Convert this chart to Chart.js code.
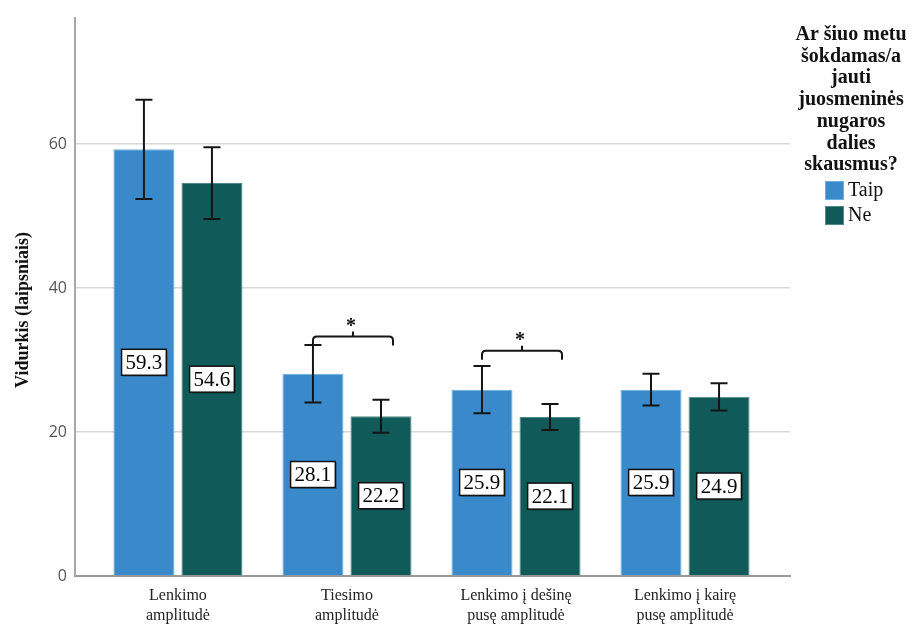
<!DOCTYPE html>
<html>
<head>
<meta charset="utf-8">
<script src="https://cdn.jsdelivr.net/npm/chart.js@4/dist/chart.umd.min.js"></script>
<style>
  html, body { margin: 0; padding: 0; background: #ffffff; }
  #wrap { width: 917px; height: 626px; position: relative; }
</style>
</head>
<body>
<div id="wrap"><canvas id="chart" width="917" height="626"></canvas></div>
<script>
// Categories (multi-line axis labels)
const categories = [
  ['Lenkimo', 'amplitudė'],
  ['Tiesimo', 'amplitudė'],
  ['Lenkimo į dešinę', 'pusę amplitudė'],
  ['Lenkimo į kairę', 'pusę amplitudė']
];

// Group means
const taipMeans = [59.3, 28.1, 25.9, 25.9];
const neMeans   = [54.6, 22.2, 22.1, 24.9];

// Error bar limits
const taipLow  = [52.4, 24.1, 22.6, 23.7];
const taipHigh = [66.2, 32.1, 29.2, 28.1];
const neLow    = [49.6, 19.9, 20.3, 23.0];
const neHigh   = [59.6, 24.5, 23.9, 26.8];

// Significance brackets: category index and bracket level
const sigCategories = [1, 2];
const sigLevels     = [33.3, 31.3];

// Axis ticks
const yTicks = [0, 20, 40, 60];

const legendTitle = ['Ar šiuo metu', 'šokdamas/a', 'jauti', 'juosmeninės', 'nugaros', 'dalies', 'skausmus?'];
const yTitle = 'Vidurkis (laipsniais)';

const COLOR_TAIP = '#3a8acb';
const COLOR_NE = '#105b59';

const toPoints = arr => arr.map((v, i) => ({ x: i, y: v }));

const overlay = {
  id: 'overlay',
  afterDatasetsDraw(chart) {
    const ctx = chart.ctx;
    const ys = chart.scales.y;
    const lows = [taipLow, neLow];
    const highs = [taipHigh, neHigh];
    const metas = [chart.getDatasetMeta(0), chart.getDatasetMeta(1)];

    // error bars
    ctx.save();
    ctx.strokeStyle = '#151515';
    ctx.lineWidth = 2;
    metas.forEach((meta, d) => {
      meta.data.forEach((el, i) => {
        const x = el.x;
        const y1 = ys.getPixelForValue(lows[d][i]);
        const y2 = ys.getPixelForValue(highs[d][i]);
        ctx.beginPath();
        ctx.moveTo(x, y1); ctx.lineTo(x, y2);
        ctx.moveTo(x - 8.5, y1); ctx.lineTo(x + 8.5, y1);
        ctx.moveTo(x - 8.5, y2); ctx.lineTo(x + 8.5, y2);
        ctx.stroke();
      });
    });
    ctx.restore();

    // significance brackets
    ctx.save();
    ctx.strokeStyle = '#151515';
    ctx.lineWidth = 2;
    sigCategories.forEach((c, k) => {
      const a = metas[0].data[c];
      const b = metas[1].data[c];
      const left = a.x;
      const right = b.x + 12;
      const mid = (left + right) / 2;
      const y = ys.getPixelForValue(sigLevels[k]);
      const r = 4;
      ctx.beginPath();
      ctx.moveTo(left, y + 9);
      ctx.lineTo(left, y + r);
      ctx.quadraticCurveTo(left, y, left + r, y);
      ctx.lineTo(right - r, y);
      ctx.quadraticCurveTo(right, y, right, y + r);
      ctx.lineTo(right, y + 9);
      ctx.moveTo(mid, y);
      ctx.lineTo(mid, y - 5);
      ctx.stroke();
      ctx.fillStyle = '#111';
      ctx.font = 'bold 20px "Liberation Serif"';
      ctx.textAlign = 'center';
      ctx.textBaseline = 'middle';
      ctx.fillText('*', mid - 2, y - 10);
    });
    ctx.restore();

    // value labels
    ctx.save();
    ctx.font = '21px "Liberation Serif"';
    ctx.textAlign = 'center';
    ctx.textBaseline = 'middle';
    metas.forEach((meta, d) => {
      const values = chart.data.datasets[d].data;
      meta.data.forEach((el, i) => {
        const txt = values[i].y.toFixed(1);
        const cy = (el.y + el.base) / 2;
        const w = ctx.measureText(txt).width + 8;
        const h = 26;
        ctx.fillStyle = 'rgba(0,0,0,0.25)';
        ctx.fillRect(el.x - w / 2 + 1.5, cy - h / 2 + 1.5, w, h);
        ctx.fillStyle = '#ffffff';
        ctx.fillRect(el.x - w / 2, cy - h / 2, w, h);
        ctx.strokeStyle = '#111';
        ctx.lineWidth = 1.5;
        ctx.strokeRect(el.x - w / 2, cy - h / 2, w, h);
        ctx.fillStyle = '#000';
        ctx.fillText(txt, el.x, cy + 1);
      });
    });
    ctx.restore();
  },
  afterDraw(chart) {
    const ctx = chart.ctx;
    // y axis title
    ctx.save();
    ctx.translate(23, 310);
    ctx.rotate(-Math.PI / 2);
    ctx.font = 'bold 18px "Liberation Serif"';
    ctx.fillStyle = '#111';
    ctx.textAlign = 'center';
    ctx.textBaseline = 'middle';
    ctx.fillText(yTitle, 0, 0);
    ctx.restore();

    // legend
    ctx.save();
    ctx.font = 'bold 20px "Liberation Serif"';
    ctx.fillStyle = '#111';
    ctx.textAlign = 'center';
    ctx.textBaseline = 'alphabetic';
    legendTitle.forEach((line, i) => {
      ctx.fillText(line, 851, 40 + i * 21.7);
    });
    ctx.font = '20px "Liberation Serif"';
    ctx.textAlign = 'left';
    ctx.textBaseline = 'middle';
    chart.data.datasets.forEach((ds, i) => {
      const top = 181 + i * 25;
      ctx.fillStyle = ds.backgroundColor;
      ctx.fillRect(825, top, 19, 19);
      ctx.strokeStyle = ds.borderColor;
      ctx.lineWidth = 1;
      ctx.strokeRect(825.5, top + 0.5, 18, 18);
      ctx.fillStyle = '#111';
      ctx.fillText(ds.label, 848, top + 10);
    });
    ctx.restore();
  }
};

new Chart(document.getElementById('chart'), {
  type: 'bar',
  data: {
    datasets: [
      {
        label: 'Taip',
        data: toPoints(taipMeans),
        backgroundColor: COLOR_TAIP,
        borderColor: '#6aaee0',
        borderWidth: 1
      },
      {
        label: 'Ne',
        data: toPoints(neMeans),
        backgroundColor: COLOR_NE,
        borderColor: '#4f8a88',
        borderWidth: 1
      }
    ]
  },
  options: {
    responsive: false,
    animation: false,
    categoryPercentage: 0.805,
    barPercentage: 0.897,
    layout: { padding: { left: 40, right: 127, top: 13, bottom: 0 } },
    plugins: {
      legend: { display: false },
      tooltip: { enabled: false }
    },
    scales: {
      x: {
        type: 'linear',
        offset: false,
        bounds: 'data',
        min: -0.609,
        max: 3.621,
        afterBuildTicks: s => { s.ticks = categories.map((_, i) => ({ value: i })); },
        afterFit: s => { s.height = 50; },
        grid: { display: false, offset: false },
        border: { display: true, color: '#9a9a9a', width: 2 },
        ticks: {
          autoSkip: false,
          maxRotation: 0,
          padding: 2,
          color: '#222',
          font: { family: '"Liberation Serif"', size: 16, lineHeight: 1.25 },
          callback: v => categories[v]
        }
      },
      y: {
        min: 0,
        max: 77.6,
        afterBuildTicks: s => { s.ticks = yTicks.map(v => ({ value: v })); },
        afterFit: s => { s.width = 35; },
        grid: { color: '#d8d8d8', lineWidth: 1.5, drawTicks: false },
        border: { display: true, color: '#a8a8a8', width: 2 },
        ticks: {
          padding: 8,
          color: '#555',
          font: { family: '"Open Sans"', size: 16 }
        }
      }
    }
  },
  plugins: [overlay]
});
</script>
</body>
</html>
